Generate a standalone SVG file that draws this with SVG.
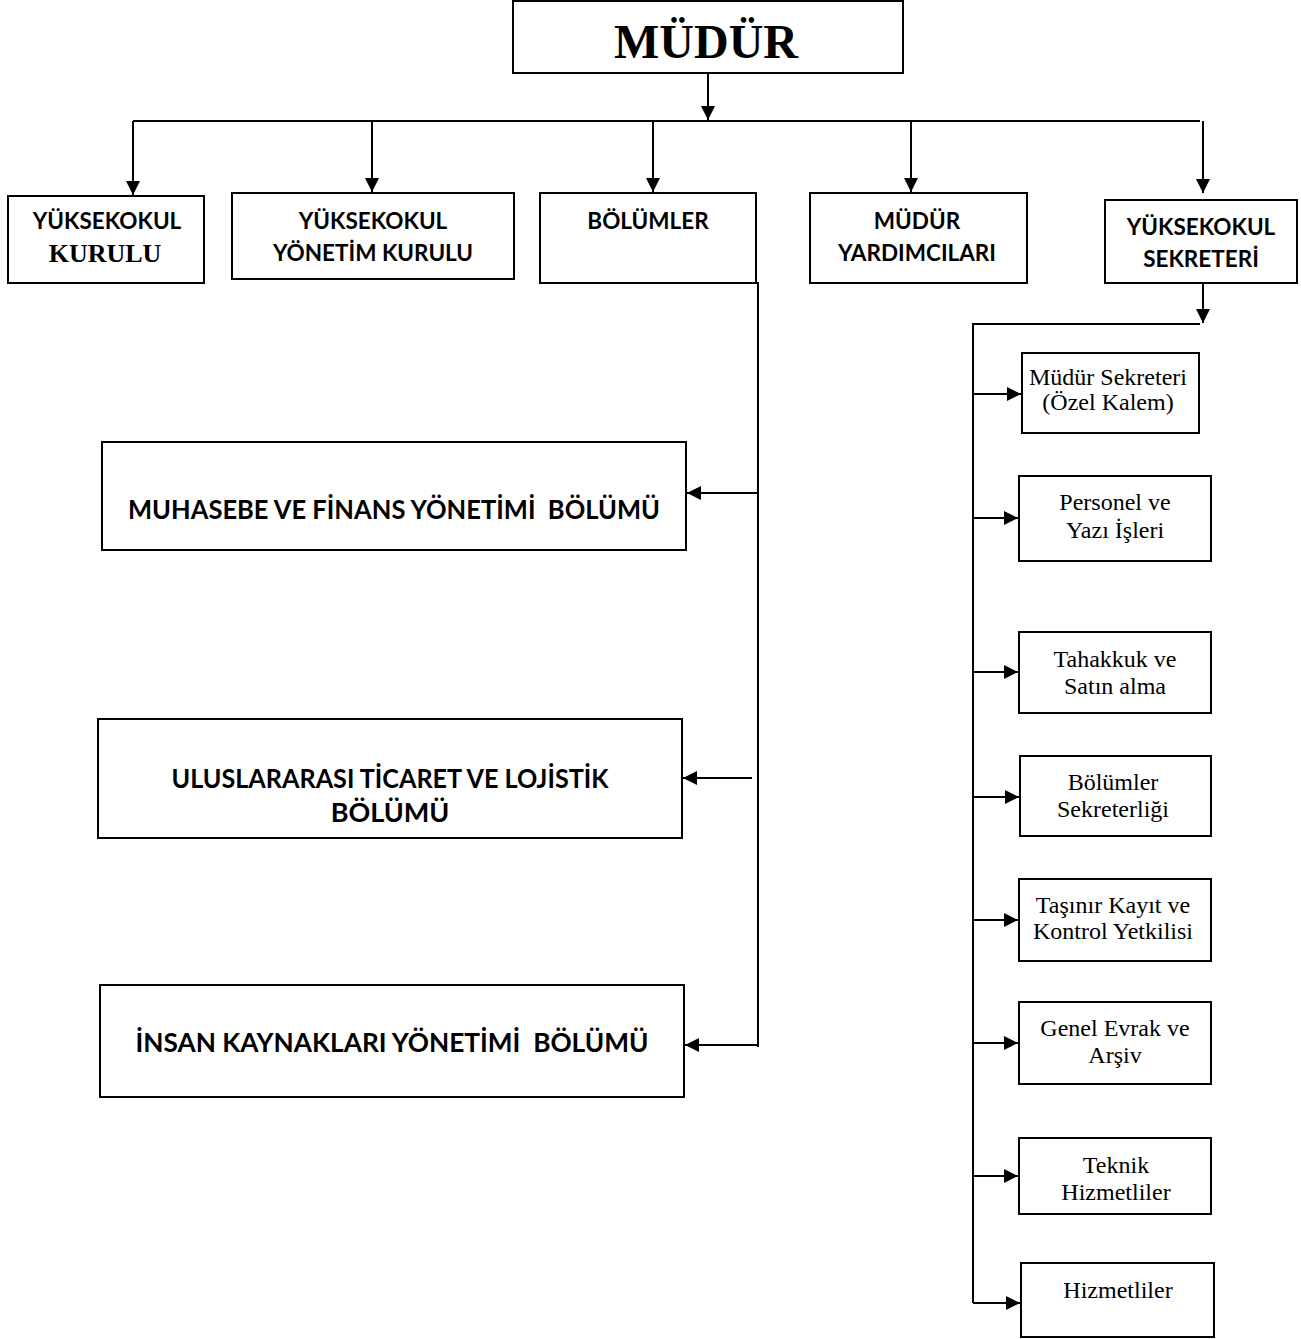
<svg xmlns="http://www.w3.org/2000/svg" width="1301" height="1339" viewBox="0 0 1301 1339">
<style>
.box{fill:#fff;stroke:#000;stroke-width:2}
.ln{fill:none;stroke:#000;stroke-width:2}
.hb{font-family:Lato,"Open Sans",sans-serif;font-weight:bold;font-size:22.5px;text-anchor:middle;fill:#000}
.big{font-family:Lato,"Open Sans",sans-serif;font-weight:bold;font-size:27px;text-anchor:middle;fill:#000}
.sm{font-family:"Liberation Serif",serif;font-size:24px;text-anchor:middle;fill:#000}
</style>
<defs>
<marker id="ar" viewBox="0 0 10 10" refX="10" refY="5" markerWidth="15" markerHeight="14" markerUnits="userSpaceOnUse" orient="auto"><path d="M0,0 L10,5 L0,10 z" fill="#000"/></marker>
</defs>
<rect width="1301" height="1339" fill="#fff"/>
<g id="connectors">
<path class="ln" d="M708,73 V120" marker-end="url(#ar)"/>
<path class="ln" d="M133,121 H1200"/>
<path class="ln" d="M133,121 V195" marker-end="url(#ar)"/>
<path class="ln" d="M372,121 V192" marker-end="url(#ar)"/>
<path class="ln" d="M653,121 V192" marker-end="url(#ar)"/>
<path class="ln" d="M911,121 V192" marker-end="url(#ar)"/>
<path class="ln" d="M1203,121 V193" marker-end="url(#ar)"/>
<path class="ln" d="M1203,283 V323" marker-end="url(#ar)"/>
<path class="ln" d="M1200,324 H973 V1303"/>
<path class="ln" d="M973,394 H1021" marker-end="url(#ar)"/>
<path class="ln" d="M973,518 H1018" marker-end="url(#ar)"/>
<path class="ln" d="M973,672 H1018" marker-end="url(#ar)"/>
<path class="ln" d="M973,797 H1019" marker-end="url(#ar)"/>
<path class="ln" d="M973,920 H1018" marker-end="url(#ar)"/>
<path class="ln" d="M973,1043 H1018" marker-end="url(#ar)"/>
<path class="ln" d="M973,1176 H1018" marker-end="url(#ar)"/>
<path class="ln" d="M973,1303 H1020" marker-end="url(#ar)"/>
<path class="ln" d="M756,283 H758 V1047"/>
<path class="ln" d="M758,493 H687" marker-end="url(#ar)"/>
<path class="ln" d="M752,778 H683" marker-end="url(#ar)"/>
<path class="ln" d="M758,1045 H685" marker-end="url(#ar)"/>
</g>
<g id="mudur"><rect class="box" x="513" y="1" width="390" height="72"/><text x="706" y="58" font-family="Liberation Serif,serif" font-weight="bold" font-size="48" text-anchor="middle">MÜDÜR</text></g>
<g id="yk-kurulu"><rect class="box" x="8" y="196" width="196" height="87"/><text class="hb" x="107" y="229">YÜKSEKOKUL</text><text x="105" y="262" font-family="Liberation Serif,serif" font-weight="bold" font-size="26" text-anchor="middle">KURULU</text></g>
<g id="yk-yonetim"><rect class="box" x="232" y="193" width="282" height="86"/><text class="hb" x="373" y="229">YÜKSEKOKUL</text><text class="hb" x="373" y="261">YÖNETİM KURULU</text></g>
<g id="bolumler"><rect class="box" x="540" y="193" width="216" height="90"/><text class="hb" x="648" y="229">BÖLÜMLER</text></g>
<g id="mudur-yard"><rect class="box" x="810" y="193" width="217" height="90"/><text class="hb" x="917" y="229">MÜDÜR</text><text class="hb" x="917" y="261">YARDIMCILARI</text></g>
<g id="yk-sekreteri"><rect class="box" x="1105" y="200" width="192" height="83"/><text class="hb" x="1201" y="235">YÜKSEKOKUL</text><text class="hb" x="1201" y="267">SEKRETERİ</text></g>
<g id="muhasebe"><rect class="box" x="102" y="442" width="584" height="108"/><text class="big" x="394" y="519" xml:space="preserve" textLength="532" lengthAdjust="spacingAndGlyphs">MUHASEBE VE FİNANS YÖNETİMİ  BÖLÜMÜ</text></g>
<g id="ticaret"><rect class="box" x="98" y="719" width="584" height="119"/><text class="big" x="390" y="788" textLength="437" lengthAdjust="spacingAndGlyphs">ULUSLARARASI TİCARET VE LOJİSTİK</text><text class="big" x="390" y="822">BÖLÜMÜ</text></g>
<g id="insan"><rect class="box" x="100" y="985" width="584" height="112"/><text class="big" x="392" y="1052" xml:space="preserve" textLength="513" lengthAdjust="spacingAndGlyphs">İNSAN KAYNAKLARI YÖNETİMİ  BÖLÜMÜ</text></g>
<g id="ozel-kalem"><rect class="box" x="1022" y="353" width="177" height="80"/><text class="sm" x="1108" y="385" font-size="18">Müdür Sekreteri</text><text class="sm" x="1108" y="410" font-size="18">(Özel Kalem)</text></g>
<g id="personel"><rect class="box" x="1019" y="476" width="192" height="85"/><text class="sm" x="1115" y="510">Personel ve</text><text class="sm" x="1115" y="538">Yazı İşleri</text></g>
<g id="tahakkuk"><rect class="box" x="1019" y="632" width="192" height="81"/><text class="sm" x="1115" y="667">Tahakkuk ve</text><text class="sm" x="1115" y="694">Satın alma</text></g>
<g id="bol-sek"><rect class="box" x="1020" y="756" width="191" height="80"/><text class="sm" x="1113" y="790">Bölümler</text><text class="sm" x="1113" y="817">Sekreterliği</text></g>
<g id="tasinir"><rect class="box" x="1019" y="879" width="192" height="82"/><text class="sm" x="1113" y="913">Taşınır Kayıt ve</text><text class="sm" x="1113" y="939">Kontrol Yetkilisi</text></g>
<g id="evrak"><rect class="box" x="1019" y="1002" width="192" height="82"/><text class="sm" x="1115" y="1036">Genel Evrak ve</text><text class="sm" x="1115" y="1063">Arşiv</text></g>
<g id="teknik"><rect class="box" x="1019" y="1138" width="192" height="76"/><text class="sm" x="1116" y="1173">Teknik</text><text class="sm" x="1116" y="1200">Hizmetliler</text></g>
<g id="hizmetliler"><rect class="box" x="1021" y="1263" width="193" height="74"/><text class="sm" x="1118" y="1298">Hizmetliler</text></g>
</svg>
